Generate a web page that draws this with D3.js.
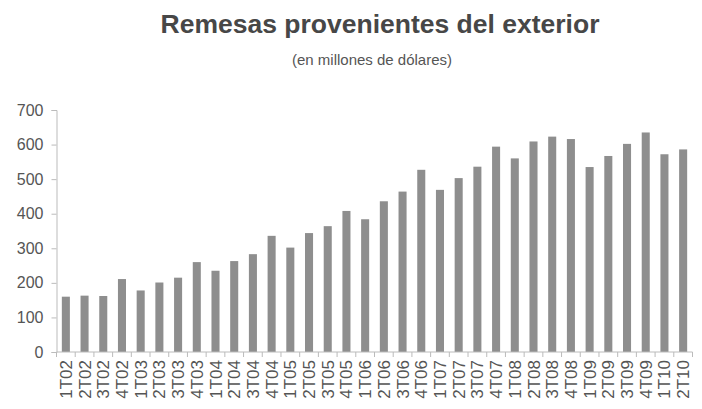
<!DOCTYPE html>
<html>
<head>
<meta charset="utf-8">
<script src="https://cdn.jsdelivr.net/npm/d3@7"></script>
<style>
  body { margin: 0; background: #fff; }
  svg text { font-family: "Liberation Sans", Arial, sans-serif; }
</style>
</head>
<body>
<div class="contents"></div>
<script>
var width = 702;
var height = 409;

var quarters = ["1T02","2T02","3T02","4T02","1T03","2T03","3T03","4T03",
                "1T04","2T04","3T04","4T04","1T05","2T05","3T05","4T05",
                "1T06","2T06","3T06","4T06","1T07","2T07","3T07","4T07",
                "1T08","2T08","3T08","4T08","1T09","2T09","3T09","4T09",
                "1T10","2T10"];
var remesas = [160, 163, 162, 211, 178, 201, 215, 260,
               235, 263, 283, 336, 302, 344, 364, 408,
               384, 436, 464, 527, 469, 503, 536, 594,
               560, 609, 623, 616, 535, 567, 602, 635,
               572, 586];
var yTicks = [0, 100, 200, 300, 400, 500, 600, 700];

var plotLeft = 56.5, plotRight = 692.5, plotTop = 110, plotBottom = 352;

var svg = d3.select(".contents").append("svg")
            .attr("width", width)
            .attr("height", height);

// titles
svg.append("text")
   .attr("x", 380).attr("y", 33)
   .attr("text-anchor", "middle")
   .style("font-size", "26.5px").style("font-weight", "bold")
   .style("fill", "#474747")
   .text("Remesas provenientes del exterior");
svg.append("text")
   .attr("x", 372).attr("y", 65)
   .attr("text-anchor", "middle")
   .style("font-size", "15px")
   .style("fill", "#555")
   .text("(en millones de dólares)");

var x = d3.scaleBand()
          .domain(quarters)
          .range([plotLeft, plotRight])
          .paddingInner(0.57)
          .paddingOuter(0.285);
var y = d3.scaleLinear()
          .domain([0, 700])
          .range([plotBottom, plotTop]);

// bars
svg.selectAll("rect.bar")
   .data(remesas)
   .enter()
   .append("rect")
   .attr("class", "bar")
   .attr("x", function(d, i){ return x(quarters[i]); })
   .attr("y", function(d){ return y(d); })
   .attr("width", x.bandwidth())
   .attr("height", function(d){ return y(0) - y(d); })
   .style("fill", "#8e8e8e");

// y axis
var yAxis = svg.append("g")
   .attr("transform", "translate(" + plotLeft + ",0)")
   .call(d3.axisLeft(y).tickValues(yTicks).tickSize(5).tickPadding(8));
yAxis.select(".domain").attr("stroke", "#bbb");
yAxis.selectAll(".tick line").attr("stroke", "#bbb");
yAxis.selectAll("text").style("font-size", "16px").style("fill", "#555")
     .attr("font-family", null);

// x axis line + ticks between bars
svg.append("line")
   .attr("x1", plotLeft).attr("x2", plotRight)
   .attr("y1", plotBottom).attr("y2", plotBottom)
   .style("stroke", "#bbb");
var step = x.step();
svg.selectAll("line.xtick")
   .data(quarters.concat(["end"]))
   .enter()
   .append("line")
   .attr("class", "xtick")
   .attr("x1", function(d, i){ return plotLeft + i * step; })
   .attr("x2", function(d, i){ return plotLeft + i * step; })
   .attr("y1", plotBottom).attr("y2", plotBottom + 5)
   .style("stroke", "#bbb");

// x labels
svg.selectAll("text.xlab")
   .data(quarters)
   .enter()
   .append("text")
   .attr("class", "xlab")
   .attr("transform", function(d){
       return "translate(" + (x(d) + x.bandwidth() / 2 + 6) + "," + (plotBottom + 8) + ") rotate(-90)";
   })
   .attr("text-anchor", "end")
   .style("font-size", "17px")
   .style("fill", "#555")
   .text(function(d){ return d; });
</script>
</body>
</html>
